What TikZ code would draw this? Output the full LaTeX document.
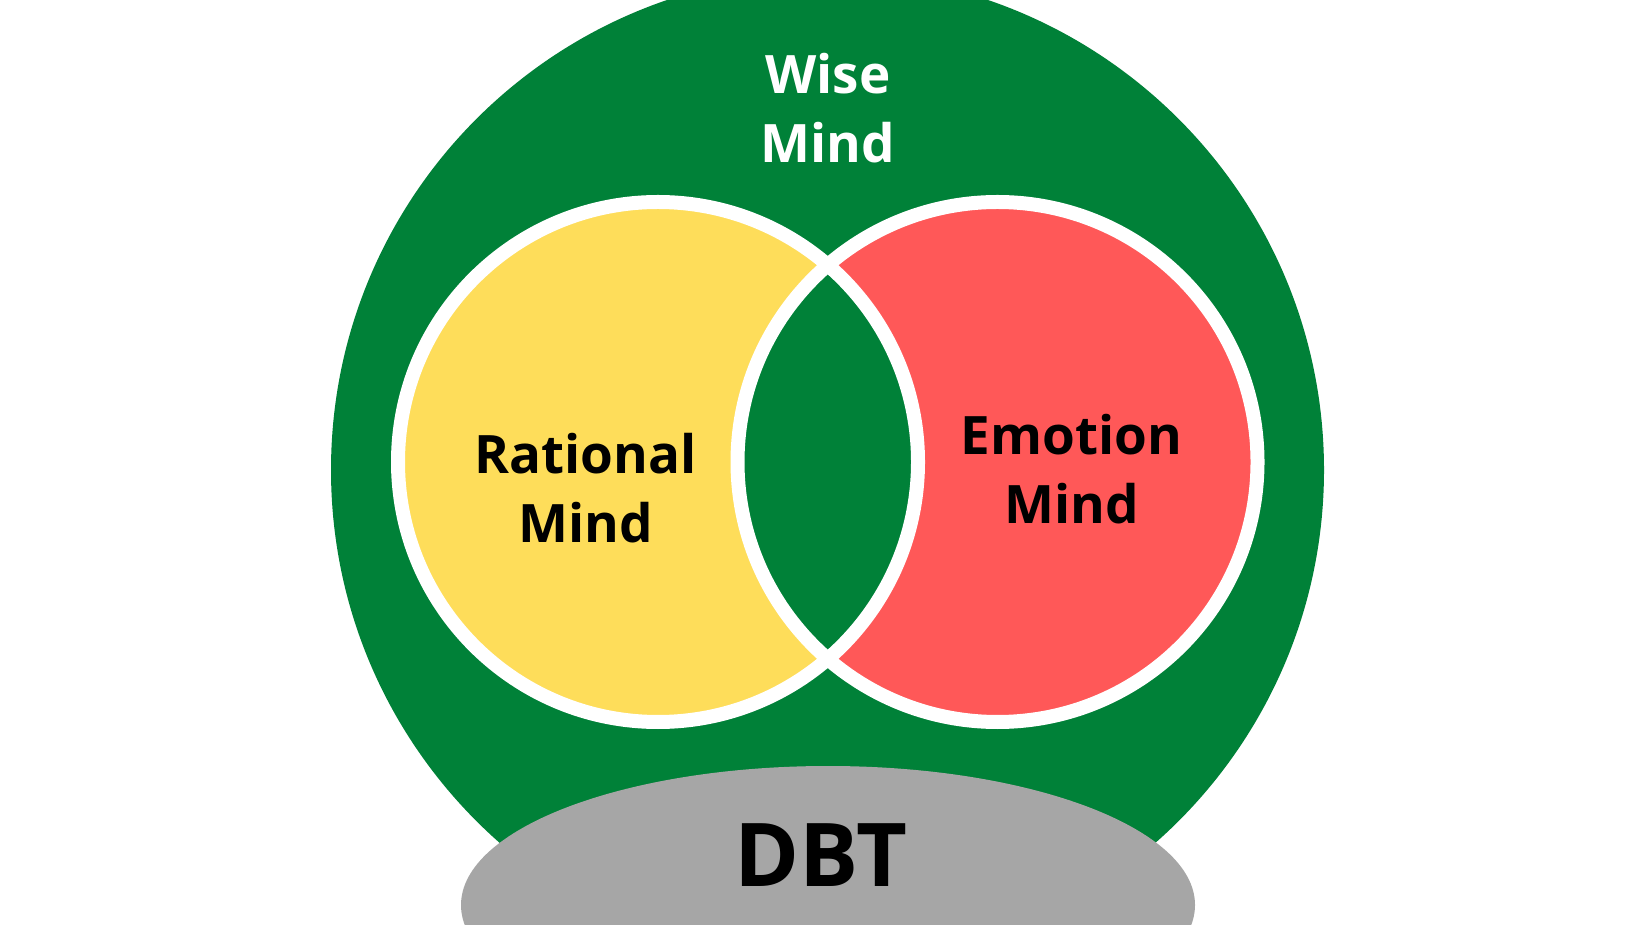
\documentclass[tikz,border=0pt]{standalone}
\usepackage{fontspec}
\IfFontExistsTF{Open Sans ExtraBold}
	{\setmainfont{Open Sans}[BoldFont={Open Sans ExtraBold}]}
	{\setmainfont{Open Sans}}
\definecolor{wisegreen}{RGB}{0,129,56}
\definecolor{rationalyellow}{RGB}{254,221,90}
\definecolor{emotionred}{RGB}{255,88,88}
\definecolor{dbtgrey}{RGB}{166,166,166}

\begin{document}
\begin{tikzpicture}[x=1pt,y=1pt,
	ring/.style={draw=white,line width=14pt},
	mindlabel/.style={align=center,inner sep=0pt,font=\fontsize{53}{69.5}\selectfont\bfseries}]
\useasboundingbox (0,0) rectangle (1640,924);
\fill[white] (0,0) rectangle (1640,924);

% wise mind, the big circle
\fill[wisegreen] (827.5,454) circle (496.5);

% the two minds and their overlap
\coordinate (rc) at (658,462);
\coordinate (ec) at (997.5,462);
\fill[rationalyellow] (rc) circle (260);
\fill[emotionred] (ec) circle (260);
\begin{scope}
	\clip (rc) circle (260);
	\fill[wisegreen] (ec) circle (260);
\end{scope}
\draw[ring] (rc) circle (260);
\draw[ring] (ec) circle (260);

% base
\fill[dbtgrey] (828,19) ellipse (367 and 139);

\node [mindlabel,text=white] (wise) at (828,816) {Wise\\Mind};
\node [mindlabel] (rational) at (585.5,436) {Rational\\Mind};
\node [mindlabel] (emotion) at (1071.5,455) {Emotion\\Mind};
\node [inner sep=0pt,anchor=base,font=\fontsize{88}{88}\selectfont\bfseries] (dbt) at (821,38) {DBT};
\end{tikzpicture}
\end{document}
